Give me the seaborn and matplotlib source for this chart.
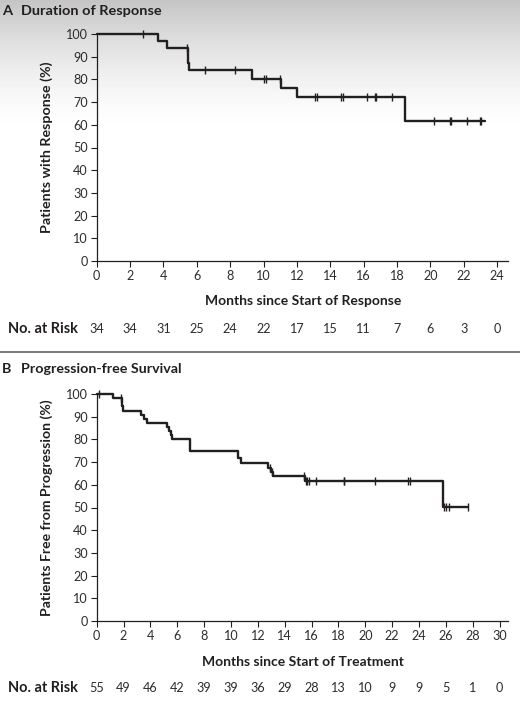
import numpy as np
import pandas as pd
import matplotlib
matplotlib.use("Agg")
import matplotlib.pyplot as plt
import matplotlib.transforms as mtransforms
import seaborn as sns

# ---------------- data ----------------
a_letter = "A"
a_title = "Duration of Response"
a_xlabel = "Months since Start of Response"
a_ylabel = "Patients with Response (%)"
a_event_months = [0, 3.7, 4.2, 5.45, 5.5, 5.55, 9.3, 11.05, 12.0, 18.5, 23.3]
a_event_pct = [100, 97.0, 93.8, 90.7, 87.4, 84.0, 80.3, 76.2, 72.1, 61.8, 61.8]
a_censor_months = [2.8, 5.4, 6.5, 8.3, 10.0, 10.15, 10.98, 13.1, 13.2, 14.65, 14.75,
                   16.2, 16.65, 16.75, 17.7, 20.2, 21.15, 21.25, 22.2, 22.95, 23.05]
a_xticks = list(range(0, 25, 2))
a_at_risk = [34, 34, 31, 25, 24, 22, 17, 15, 11, 7, 6, 3, 0]

b_letter = "B"
b_title = "Progression-free Survival"
b_xlabel = "Months since Start of Treatment"
b_ylabel = "Patients Free from Progression (%)"
b_event_months = [0, 1.2, 1.85, 1.9, 1.95, 3.3, 3.5, 3.75, 5.2, 5.35, 5.5, 5.6, 6.95,
                  10.5, 10.75, 12.75, 12.95, 13.15, 15.5, 25.8, 27.66]
b_event_pct = [100, 98.4, 96.5, 94.6, 92.7, 90.9, 89.1, 87.4, 85.6, 83.8, 82.0, 80.3, 75.0,
               71.6, 69.7, 67.6, 65.6, 63.8, 61.5, 50.4, 50.4]
b_censor_months = [0.2, 1.8, 12.9, 13.05, 15.4, 15.55, 15.65, 15.8, 16.3, 18.4, 18.45,
                   20.75, 23.2, 23.3, 25.87, 25.98, 26.25, 27.66]
b_xticks = list(range(0, 31, 2))
b_at_risk = [55, 49, 46, 42, 39, 39, 36, 29, 28, 13, 10, 9, 9, 5, 1, 0]

risk_label = "No. at Risk"
yticks = list(range(0, 101, 10))

# ---------------- style ----------------
sns.set_theme(style="ticks")
plt.rcParams["font.family"] = ["Lato", "DejaVu Sans"]

W, H = 520, 702
fig = plt.figure(figsize=(W / 100, H / 100), dpi=100)
fig.patch.set_facecolor("white")
renderer = fig.canvas.get_renderer()

# background gradient at top
bg = fig.add_axes([0, 0, 1, 1], zorder=-10)
rows = np.linspace(0, 1, H)
g = np.clip(rows / 0.19, 0, 1)
shade = 0.77 + 0.23 * (1 - (1 - g) ** 1.6)
img = np.repeat(shade[:, None], 10, axis=1)
bg.imshow(img, cmap="gray", vmin=0, vmax=1, aspect="auto", extent=[0, 1, 1, 0])
bg.set_xlim(0, 1)
bg.set_ylim(1, 0)
bg.axis("off")


def fx(px):
    return px / W


def fy(py):
    return 1 - py / H


def fitted_size(s, target_px, weight="normal"):
    t = fig.text(0, 0, s, fontsize=10, fontweight=weight)
    bb = t.get_window_extent(renderer=renderer)
    t.remove()
    return 10 * target_px / bb.width


ink = "#231f20"
tick_col = "#2c2c2c"
tick_fs = fitted_size("100", 22)
risk_fs = tick_fs


def km_panel(rect, letter, title, title_y, title_w, xlabel, xlabel_w, ylabel, ylabel_w,
             times, pct, censor, xticks, at_risk, xmax, xlabel_y, risk_y, ylabel_x):
    ax = fig.add_axes(rect)
    ax.set_facecolor("none")
    df = pd.DataFrame({"month": times, "pct": pct})
    sns.lineplot(data=df, x="month", y="pct", ax=ax, estimator=None, sort=False,
                 drawstyle="steps-post", color=ink, linewidth=1.7, clip_on=False)
    t = np.asarray(times)
    p = np.asarray(pct)
    idx = np.searchsorted(t, np.asarray(censor), side="right") - 1
    cdf = pd.DataFrame({"month": censor, "pct": p[idx]})
    sns.scatterplot(data=cdf, x="month", y="pct", ax=ax, marker="|", s=34,
                    color=ink, linewidth=1.0, clip_on=False, zorder=3)
    ax.set_xlim(0, xmax)
    ax.set_ylim(0, 100)
    ax.set_xticks(xticks)
    ax.set_yticks(yticks)
    ax.set_xticklabels([str(v) for v in xticks])
    ax.set_yticklabels([str(v) for v in yticks])
    for s in ["top", "right"]:
        ax.spines[s].set_visible(False)
    for s in ["left", "bottom"]:
        ax.spines[s].set_color(ink)
        ax.spines[s].set_linewidth(0.9)
    ax.tick_params(axis="both", direction="out", length=4.5, width=0.8, color=ink,
                   labelsize=tick_fs, labelcolor=tick_col, pad=2)
    ax.set_xlabel("")
    ax.set_ylabel("")
    # panel title
    tfs = fitted_size(title, title_w, "bold") * 1.04
    fig.text(fx(2), fy(title_y), letter, fontsize=tfs, fontweight="bold",
             color=ink, va="center", ha="left")
    fig.text(fx(21), fy(title_y), title, fontsize=tfs, fontweight="bold",
             color=ink, va="center", ha="left")
    # axis labels
    fig.text(fx(303), fy(xlabel_y), xlabel, fontsize=fitted_size(xlabel, xlabel_w, "bold"),
             fontweight="bold", color=ink, va="center", ha="center")
    ycenter = (rect[1] + rect[1] + rect[3]) / 2
    fig.text(fx(ylabel_x), ycenter, ylabel, fontsize=fitted_size(ylabel, ylabel_w, "bold"),
             fontweight="bold", color=ink, va="center", ha="center", rotation=90)
    # number at risk
    fig.text(fx(8), fy(risk_y), risk_label, fontsize=fitted_size(risk_label, 70, "bold"),
             fontweight="bold", color=ink, va="center", ha="left")
    tr = mtransforms.blended_transform_factory(ax.transData, fig.transFigure)
    for m, n in zip(xticks, at_risk):
        ax.text(m, fy(risk_y), str(n), transform=tr, fontsize=risk_fs, color=tick_col,
                ha="center", va="center", clip_on=False)
    return ax


rectA = [fx(96.7), fy(261), fx(508) - fx(96.7), fy(34) - fy(261)]
km_panel(rectA, a_letter, a_title, 11, 135, a_xlabel, 196, a_ylabel, 172,
         a_event_months, a_event_pct, a_censor_months, a_xticks, a_at_risk,
         24.65, 301, 329, 47)

rectB = [fx(96.7), fy(621), fx(508.3) - fx(96.7), fy(394) - fy(621)]
km_panel(rectB, b_letter, b_title, 369, 154, b_xlabel, 202, b_ylabel, 216,
         b_event_months, b_event_pct, b_censor_months, b_xticks, b_at_risk,
         30.65, 662, 688, 47)

# separator line
fig.add_artist(plt.Line2D([0, 1], [fy(352), fy(352)], transform=fig.transFigure,
                          color="#555555", linewidth=1.1))

fig.savefig("out.png", dpi=100)
